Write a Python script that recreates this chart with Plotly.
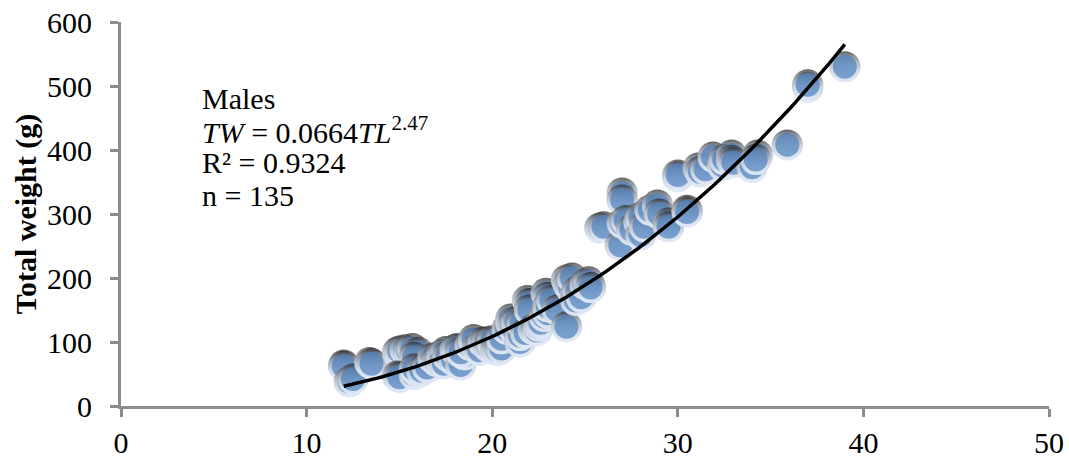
import plotly.graph_objects as go
import numpy as np

# Total length (cm) and total weight (g) of males
tl = [12.0, 12.0, 12.3, 12.5, 13.4, 13.5,
      14.9, 15.0, 15.3, 15.5, 15.7, 15.9, 16.0, 15.8,
      14.9, 15.0, 15.8, 16.0, 15.8, 16.2, 16.5,
      16.8, 17.0, 17.2, 17.3, 17.5, 17.4, 17.6, 17.9, 18.0, 18.1, 18.3, 18.5, 18.3,
      18.8, 19.0, 19.0, 19.2, 19.3, 19.5, 19.7, 19.8, 20.0, 20.0, 20.2, 20.3, 20.5, 20.5,
      20.8, 21.0, 21.0, 21.1, 21.2, 21.3, 21.5, 21.5, 21.6, 21.8, 21.9, 22.0, 22.0, 22.2,
      22.4, 22.5, 22.6, 22.8, 22.9, 23.0, 23.0, 23.0, 23.2, 23.5,
      24.0, 24.0, 24.1, 24.2, 24.3, 24.5, 24.5, 24.6, 24.8, 25.0, 25.2, 25.3,
      25.8, 26.0, 26.9, 27.0, 27.0, 27.0, 27.2, 27.5, 27.9, 28.0, 28.0, 28.2, 28.5,
      28.9, 29.0, 29.5, 29.5,
      30.0, 30.0, 30.5, 30.5, 31.1, 31.2, 31.5, 31.9, 32.4, 32.5, 32.9, 32.9, 33.0,
      34.0, 34.3, 34.2, 35.9, 37.0, 37.0, 39.0]
tw = [64, 62, 38, 42, 68, 66,
      84, 86, 88, 85, 90, 80, 84, 76,
      47, 45, 49, 52, 58, 55, 60,
      75, 70, 72, 80, 85, 66, 78, 72, 88, 90, 64, 80, 84,
      95, 98, 104, 90, 87, 100, 100, 92, 95, 102, 88, 87, 90, 105,
      120, 130, 136, 126, 118, 132, 100, 110, 128, 114, 165, 160, 150, 120,
      118, 125, 130, 140, 176, 170, 145, 155, 165, 150,
      124, 197, 190, 185, 200, 175, 165, 180, 170, 190, 194, 185,
      278, 280, 251, 333, 286, 322, 290, 275, 288, 267, 295, 280, 306,
      314, 300, 286, 280,
      358, 361, 306, 303, 372, 366, 370, 389, 376, 385, 392, 384, 380,
      373, 392, 385, 408, 498, 502, 530]

# Power fit shown on the chart: TW = a * TL^b
fit_a = 0.0664
fit_b = 2.47
fit_range = [12.0, 39.0]

x_ticks = [0, 10, 20, 30, 40, 50]
y_ticks = [0, 100, 200, 300, 400, 500, 600]

# each point: shaded rim (dark top -> light bottom) drawn in layers, then blue face
LIGHT = "rgba(223,232,246,1)"
LIGHT0 = "rgba(223,232,246,0)"
layers = [  # (size, top colour, bottom colour, gradient type)
    (31, "#1e1e1e", LIGHT, "vertical"),
    (31, LIGHT0, LIGHT, "vertical"),
    (31, LIGHT0, LIGHT, "vertical"),
    (24, "#4F81BD", "#4F81BD", "none"),
]
px, py, sizes, cols, gcols, gtypes = [], [], [], [], [], []
for a, b in zip(tl, tw):
    for s, c, g, gt in layers:
        px.append(a)
        py.append(b)
        sizes.append(s)
        cols.append(c)
        gcols.append(g)
        gtypes.append(gt)

fig = go.Figure()
fig.add_trace(go.Scatter(
    x=px, y=py, mode="markers",
    marker=dict(size=sizes, color=cols, line=dict(width=0),
                gradient=dict(type=gtypes, color=gcols)),
    showlegend=False, hoverinfo="skip"))

xf = np.linspace(fit_range[0], fit_range[1], 120)
yf = fit_a * xf ** fit_b
fig.add_trace(go.Scatter(x=xf, y=yf, mode="lines",
                         line=dict(color="black", width=3.5),
                         showlegend=False, hoverinfo="skip"))

font = dict(family="Liberation Serif, Times New Roman, serif", size=30, color="black")
ann_lines = ["Males",
             "<i>TW</i> = 0.0664<i>TL</i><sup>2.47</sup>",
             "R² = 0.9324",
             "n = 135"]
ann_y = [0.802, 0.719, 0.633, 0.549]
for t, yy in zip(ann_lines, ann_y):
    fig.add_annotation(text=t, xref="paper", yref="paper", x=0.085, y=yy,
                       xanchor="left", yanchor="middle", showarrow=False, font=font)

fig.update_layout(
    width=1069, height=466,
    margin=dict(l=121, r=20, t=22, b=60),
    paper_bgcolor="white", plot_bgcolor="white",
    font=font,
    xaxis=dict(range=[0, 50], tickvals=x_ticks, showgrid=False, zeroline=False,
               showline=True, linecolor="#8c8c8c", linewidth=3,
               ticks="outside", ticklen=8, tickwidth=3, tickcolor="#8c8c8c",
               tickfont=font, ticklabeloverflow="allow", automargin=False),
    yaxis=dict(range=[0, 600], tickvals=y_ticks, showgrid=False, zeroline=False,
               showline=True, linecolor="#8c8c8c", linewidth=3,
               ticks="outside", ticklen=8, tickwidth=3, tickcolor="#8c8c8c",
               tickfont=font, ticklabeloverflow="allow", ticklabelstandoff=12,
               automargin=False,
               title=dict(text="<b>Total weight (g)</b>", font=font, standoff=2)),
)

fig.write_html("out.html",
               config={"displayModeBar": False},
               post_script="document.body.style.margin='0';document.body.style.overflow='hidden';")
